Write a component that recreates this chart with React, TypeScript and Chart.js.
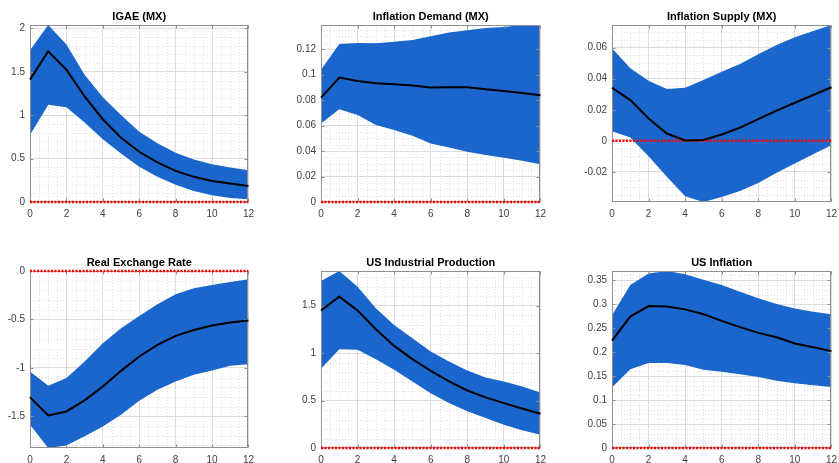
import React, { useEffect, useRef } from "react";
import { Chart, registerables } from "chart.js";

Chart.register(...registerables);

const FONT = '"Liberation Sans", Arial, Helvetica, sans-serif';

// ---------------- data ----------------
const horizons = [0, 1, 2, 3, 4, 5, 6, 7, 8, 9, 10, 11, 12];
const xTicks = [0, 2, 4, 6, 8, 10, 12];

const igaeMedian = [1.41, 1.737, 1.525, 1.216, 0.954, 0.741, 0.579, 0.456, 0.359, 0.29, 0.243, 0.212, 0.185];
const igaeUpper = [1.749, 2.04, 1.815, 1.467, 1.208, 1.004, 0.81, 0.676, 0.568, 0.49, 0.436, 0.398, 0.367];
const igaeLower = [0.772, 1.12, 1.093, 0.915, 0.722, 0.56, 0.405, 0.29, 0.2, 0.127, 0.077, 0.046, 0.031];
const igaeTicks = [0, 0.5, 1, 1.5, 2];

const demandMedian = [0.0819, 0.0977, 0.095, 0.0932, 0.0924, 0.0914, 0.0898, 0.0901, 0.0901, 0.0885, 0.0872, 0.0856, 0.0838];
const demandUpper = [0.1037, 0.1239, 0.1247, 0.1245, 0.1258, 0.1271, 0.13, 0.1331, 0.1347, 0.1365, 0.1373, 0.1389, 0.1381];
const demandLower = [0.0617, 0.0727, 0.0683, 0.0604, 0.0565, 0.052, 0.046, 0.0428, 0.0394, 0.0368, 0.0347, 0.0323, 0.0297];
const demandTicks = [0, 0.02, 0.04, 0.06, 0.08, 0.1, 0.12];

const supplyMedian = [0.0342, 0.0262, 0.0144, 0.0047, 0.0002, 0.0006, 0.0041, 0.0085, 0.014, 0.0195, 0.0245, 0.0295, 0.0345];
const supplyUpper = [0.0596, 0.0467, 0.0387, 0.0333, 0.0342, 0.0391, 0.0445, 0.0495, 0.0557, 0.0617, 0.0667, 0.0708, 0.0746];
const supplyLower = [0.0062, 0.0022, -0.0099, -0.0232, -0.0357, -0.0394, -0.0361, -0.0323, -0.0271, -0.0206, -0.0146, -0.0086, -0.0028];
const supplyTicks = [-0.02, 0, 0.02, 0.04, 0.06];

const rerMedian = [-1.301, -1.49, -1.449, -1.335, -1.191, -1.03, -0.882, -0.762, -0.669, -0.608, -0.563, -0.532, -0.511];
const rerUpper = [-1.037, -1.184, -1.105, -0.934, -0.745, -0.59, -0.463, -0.343, -0.24, -0.179, -0.144, -0.113, -0.086];
const rerLower = [-1.586, -1.826, -1.799, -1.706, -1.603, -1.483, -1.339, -1.226, -1.14, -1.071, -1.026, -0.978, -0.961];
const rerTicks = [-1.5, -1, -0.5, 0];

const usipMedian = [1.448, 1.595, 1.448, 1.251, 1.076, 0.936, 0.813, 0.701, 0.606, 0.533, 0.473, 0.417, 0.361];
const usipUpper = [1.76, 1.865, 1.7, 1.472, 1.297, 1.157, 1.016, 0.911, 0.817, 0.743, 0.701, 0.648, 0.585];
const usipLower = [0.834, 1.041, 1.034, 0.936, 0.824, 0.701, 0.578, 0.473, 0.386, 0.315, 0.245, 0.186, 0.14];
const usipTicks = [0, 0.5, 1, 1.5];

const usinfMedian = [0.224, 0.274, 0.296, 0.295, 0.289, 0.279, 0.265, 0.252, 0.24, 0.231, 0.218, 0.21, 0.202];
const usinfUpper = [0.277, 0.34, 0.364, 0.369, 0.362, 0.351, 0.34, 0.326, 0.312, 0.3, 0.291, 0.284, 0.279];
const usinfLower = [0.126, 0.164, 0.177, 0.177, 0.173, 0.163, 0.159, 0.154, 0.148, 0.14, 0.135, 0.131, 0.127];
const usinfTicks = [0, 0.05, 0.1, 0.15, 0.2, 0.25, 0.3, 0.35];

const titles = [
  "IGAE (MX)",
  "Inflation Demand (MX)",
  "Inflation Supply (MX)",
  "Real Exchange Rate",
  "US Industrial Production",
  "US Inflation",
];

// ---------------- layout / style ----------------
const BAND = "#1a66cc";
const colLeft = [30, 321, 612];
const colRight = [250, 542, 833];
const rowTop = [25, 271];
const rowBottom = [202, 448];
const rowCanvasBottom = [220, 463];
const Y_AXIS_W = 30;
const TITLE_H = 25;
const RIGHT_PAD = 10;

type PanelCfg = {
  title: string;
  median: number[];
  upper: number[];
  lower: number[];
  yTicks: number[];
  yMinor: number;
  col: number;
  row: number;
};

const panels: PanelCfg[] = [
  { title: titles[0], median: igaeMedian, upper: igaeUpper, lower: igaeLower, yTicks: igaeTicks, yMinor: 0.1, col: 0, row: 0 },
  { title: titles[1], median: demandMedian, upper: demandUpper, lower: demandLower, yTicks: demandTicks, yMinor: 0.005, col: 1, row: 0 },
  { title: titles[2], median: supplyMedian, upper: supplyUpper, lower: supplyLower, yTicks: supplyTicks, yMinor: 0.005, col: 2, row: 0 },
  { title: titles[3], median: rerMedian, upper: rerUpper, lower: rerLower, yTicks: rerTicks, yMinor: 0.1, col: 0, row: 1 },
  { title: titles[4], median: usipMedian, upper: usipUpper, lower: usipLower, yTicks: usipTicks, yMinor: 0.1, col: 1, row: 1 },
  { title: titles[5], median: usinfMedian, upper: usinfUpper, lower: usinfLower, yTicks: usinfTicks, yMinor: 0.01, col: 2, row: 1 },
];

const fmt = (v: number) => Number(v.toFixed(6)).toString();

function drawBox(chart: any, opts: any) {
  const { ctx, chartArea: a, scales } = chart;
  const x = scales.x;
  const y = scales.y;
  ctx.save();
  ctx.strokeStyle = "#8e8e8e";
  ctx.lineWidth = 1;
  ctx.setLineDash([]);
  const l = Math.round(a.left) + 0.5;
  const r = Math.round(a.right) - 0.5;
  const t = Math.round(a.top) + 0.5;
  const b = Math.round(a.bottom) - 0.5;
  ctx.strokeRect(l, t, r - l, b - t);
  const tl = 3;
  ctx.beginPath();
  for (const v of opts.xTicks) {
    const px = Math.round(x.getPixelForValue(v)) + 0.5;
    ctx.moveTo(px, b);
    ctx.lineTo(px, b - tl);
    ctx.moveTo(px, t);
    ctx.lineTo(px, t + tl);
  }
  for (const v of opts.yTicks) {
    const py = Math.round(y.getPixelForValue(v)) + 0.5;
    ctx.moveTo(l, py);
    ctx.lineTo(l + tl, py);
    ctx.moveTo(r, py);
    ctx.lineTo(r - tl, py);
  }
  ctx.stroke();
  ctx.restore();
}

const decorPlugin = {
  id: "decor",
  beforeDatasetsDraw(chart: any, _args: any, opts: any) {
    const { ctx, chartArea: a, scales } = chart;
    const x = scales.x;
    const y = scales.y;
    ctx.save();
    ctx.strokeStyle = "#e0e0e0";
    ctx.lineWidth = 1;
    ctx.setLineDash([1, 2]);
    const isMajor = (v: number, arr: number[]) => arr.some((t) => Math.abs(t - v) < 1e-9);
    ctx.beginPath();
    for (let k = Math.ceil(x.min / opts.xMinor - 1e-9); k * opts.xMinor <= x.max + 1e-9; k++) {
      const v = k * opts.xMinor;
      if (isMajor(v, opts.xTicks)) continue;
      const px = Math.round(x.getPixelForValue(v)) + 0.5;
      ctx.moveTo(px, a.top);
      ctx.lineTo(px, a.bottom);
    }
    for (let k = Math.ceil(y.min / opts.yMinor - 1e-9); k * opts.yMinor <= y.max + 1e-9; k++) {
      const v = k * opts.yMinor;
      if (isMajor(v, opts.yTicks)) continue;
      const py = Math.round(y.getPixelForValue(v)) + 0.5;
      ctx.moveTo(a.left, py);
      ctx.lineTo(a.right, py);
    }
    ctx.stroke();
    ctx.restore();
  },
  afterDatasetDraw(chart: any, args: any, opts: any) {
    // axes box drawn over the band, under the zero line and the median
    if (args.index === 2) drawBox(chart, opts);
  },
  afterDraw(chart: any, _args: any, opts: any) {
    const { ctx, chartArea: a } = chart;
    ctx.save();
    ctx.fillStyle = "#000";
    ctx.font = `bold 11px ${FONT}`;
    ctx.textAlign = "center";
    ctx.textBaseline = "middle";
    ctx.fillText(opts.title, (a.left + a.right) / 2, a.top - 8);
    ctx.restore();
  },
};

function Panel({ cfg }: { cfg: PanelCfg }) {
  const ref = useRef<HTMLCanvasElement>(null);
  const left = colLeft[cfg.col] - Y_AXIS_W;
  const top = rowTop[cfg.row] - TITLE_H;
  const width = colRight[cfg.col] - colLeft[cfg.col] + Y_AXIS_W + RIGHT_PAD;
  const height = rowCanvasBottom[cfg.row] - top;
  const xAxisH = rowCanvasBottom[cfg.row] - rowBottom[cfg.row];

  useEffect(() => {
    if (!ref.current) return;
    const yMin = Math.min(0, ...cfg.lower);
    const yMax = Math.max(0, ...cfg.upper);
    const pts = (arr: number[]) => horizons.map((h, i) => ({ x: h, y: arr[i] }));
    const chart = new Chart(ref.current, {
      type: "line",
      data: {
        datasets: [
          {
            data: pts(cfg.median),
            borderColor: "#000",
            borderWidth: 2,
            pointRadius: 0,
            fill: false,
            tension: 0,
            clip: 2,
          },
          {
            data: horizons.map((h) => ({ x: h, y: 0 })),
            borderColor: "#ff0000",
            borderWidth: 2.5,
            borderDash: [2, 1.5],
            pointRadius: 0,
            fill: false,
            clip: 3,
          },
          {
            data: pts(cfg.upper),
            borderColor: "rgba(0,0,0,0)",
            borderWidth: 0,
            backgroundColor: BAND,
            pointRadius: 0,
            fill: "+1",
            tension: 0,
          },
          {
            data: pts(cfg.lower),
            borderColor: "rgba(0,0,0,0)",
            borderWidth: 0,
            pointRadius: 0,
            fill: false,
            tension: 0,
          },
        ],
      } as any,
      options: {
        animation: false,
        responsive: false,
        maintainAspectRatio: false,
        events: [],
        layout: { padding: { top: TITLE_H, right: RIGHT_PAD, left: 0, bottom: 0 } },
        plugins: {
          legend: { display: false },
          title: { display: false },
          tooltip: { enabled: false },
          filler: { drawTime: "beforeDatasetDraw" },
          decor: { title: cfg.title, xTicks, yTicks: cfg.yTicks, xMinor: 0.5, yMinor: cfg.yMinor },
        } as any,
        scales: {
          x: {
            type: "linear",
            min: 0,
            max: 12,
            afterBuildTicks: (s: any) => {
              s.ticks = xTicks.map((v) => ({ value: v }));
            },
            afterFit: (s: any) => {
              s.height = xAxisH;
            },
            border: { display: false },
            grid: { color: "#dcdcdc", lineWidth: 1, drawTicks: false },
            ticks: {
              padding: 6,
              color: "#404040",
              font: { family: FONT, size: 10 },
              maxRotation: 0,
              autoSkip: false,
              callback: (v: any) => fmt(Number(v)),
            },
          },
          y: {
            type: "linear",
            min: yMin,
            max: yMax,
            afterBuildTicks: (s: any) => {
              s.ticks = cfg.yTicks.map((v) => ({ value: v }));
            },
            afterFit: (s: any) => {
              s.width = Y_AXIS_W;
            },
            border: { display: false },
            grid: { color: "#dcdcdc", lineWidth: 1, drawTicks: false },
            ticks: {
              padding: 5,
              color: "#404040",
              font: { family: FONT, size: 10 },
              autoSkip: false,
              callback: (v: any) => fmt(Number(v)),
            },
          },
        },
      } as any,
      plugins: [decorPlugin as any],
    });
    return () => chart.destroy();
  }, []);

  return (
    <canvas
      ref={ref}
      width={width}
      height={height}
      style={{ position: "absolute", left, top, width, height, display: "block" }}
    />
  );
}

export default function App() {
  return (
    <div
      style={{
        position: "absolute",
        left: 0,
        top: 0,
        width: 839,
        height: 463,
        overflow: "hidden",
        background: "#fff",
      }}
    >
      {panels.map((p, i) => (
        <Panel key={i} cfg={p} />
      ))}
    </div>
  );
}
